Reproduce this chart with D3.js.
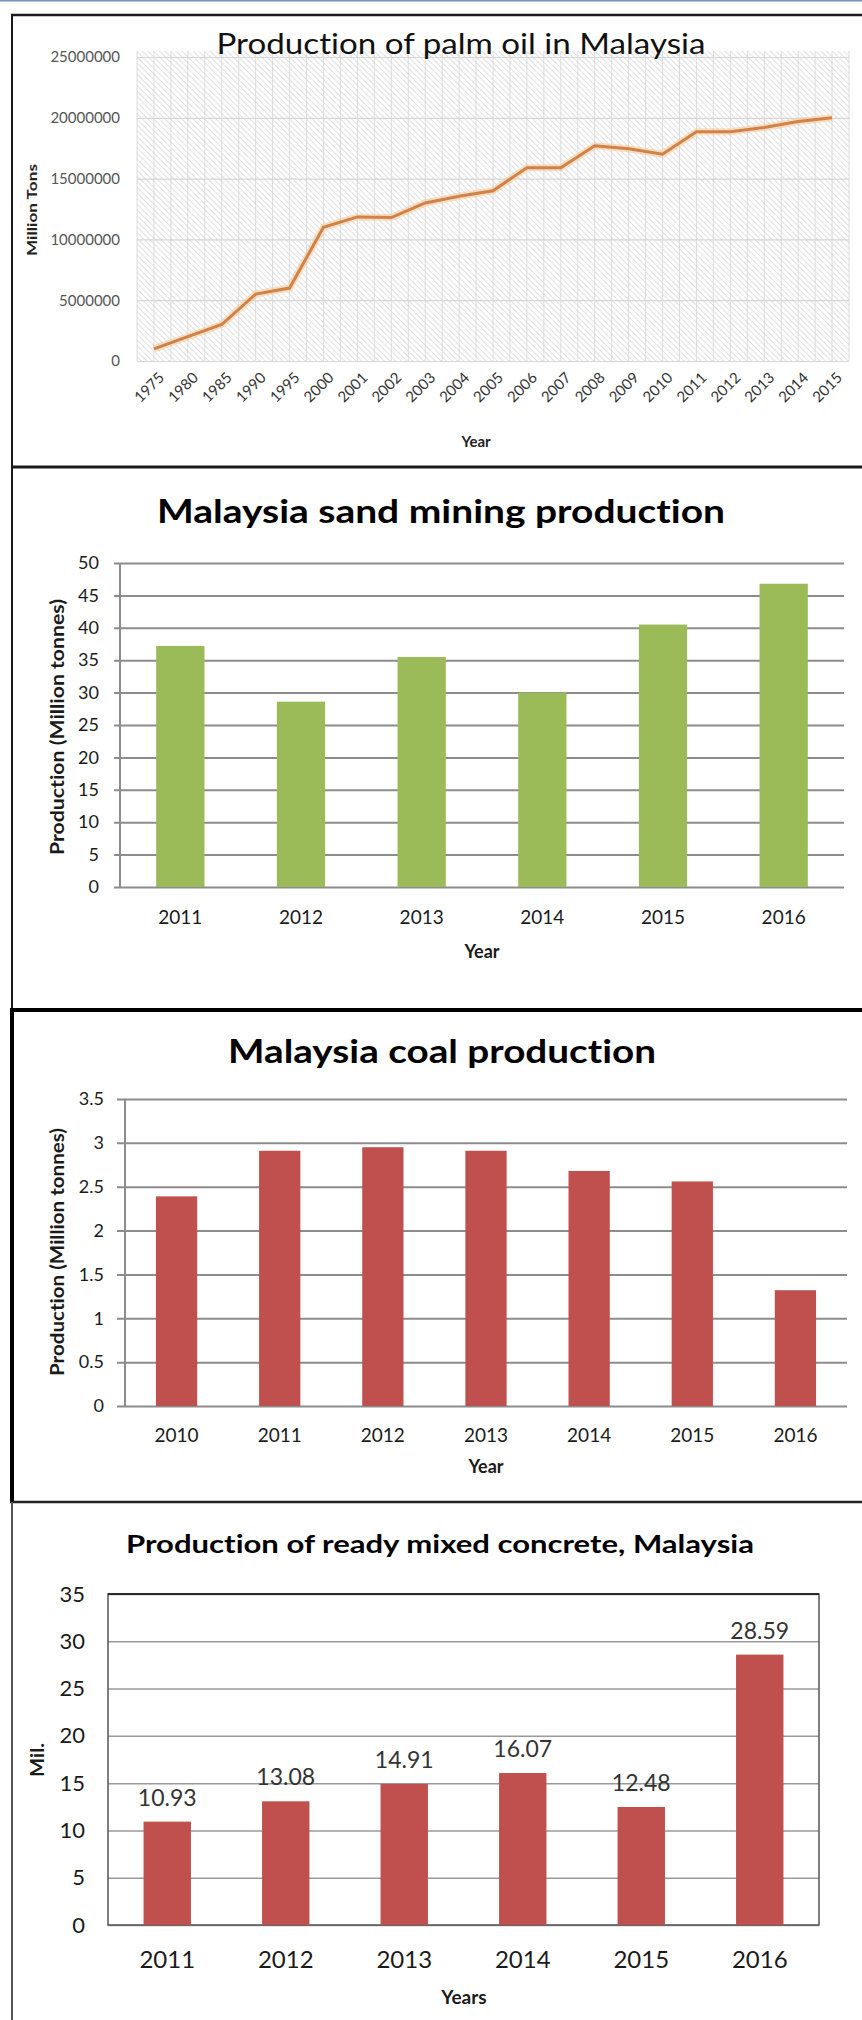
<!DOCTYPE html>
<html>
<head>
<meta charset="utf-8">
<title>Malaysia production charts</title>
<script src="https://d3js.org/d3.v7.min.js"></script>
<style>
  body { margin: 0; background: #fff; }
  svg text { font-family: Lato, "Open Sans", sans-serif; font-variant-ligatures: none; }
</style>
</head>
<body>
<script>
// ---- data ----
var palmYears = ["1975","1980","1985","1990","1995","2000","2001","2002","2003","2004","2005",
                 "2006","2007","2008","2009","2010","2011","2012","2013","2014","2015"];
var palmValues = [1000000, 2000000, 3000000, 5500000, 6000000, 11000000, 11850000, 11800000,
                  13000000, 13550000, 14000000, 15900000, 15900000, 17700000, 17450000, 17000000,
                  18850000, 18850000, 19200000, 19700000, 20000000];
var palmTicks = [0, 5000000, 10000000, 15000000, 20000000, 25000000];

var sandYears = ["2011","2012","2013","2014","2015","2016"];
var sandValues = [37.2, 28.6, 35.5, 30.0, 40.5, 46.8];
var sandTicks = [0,5,10,15,20,25,30,35,40,45,50];

var coalYears = ["2010","2011","2012","2013","2014","2015","2016"];
var coalValues = [2.39, 2.91, 2.95, 2.91, 2.68, 2.56, 1.32];
var coalTicks = [0,0.5,1,1.5,2,2.5,3,3.5];

var concreteYears = ["2011","2012","2013","2014","2015","2016"];
var concreteValues = [10.93, 13.08, 14.91, 16.07, 12.48, 28.59];
var concreteTicks = [0,5,10,15,20,25,30,35];

var width = 862, height = 2020;

var svg = d3.select("body")
  .append("svg")
  .attr("width", width)
  .attr("height", height);

// ---- panel frames ----
function hline(y, x1, x2, w, c) {
  svg.append("line").attr("x1", x1).attr("x2", x2).attr("y1", y).attr("y2", y)
    .attr("stroke", c).attr("stroke-width", w);
}
function vline(x, y1, y2, w, c) {
  svg.append("line").attr("x1", x).attr("x2", x).attr("y1", y1).attr("y2", y2)
    .attr("stroke", c).attr("stroke-width", w);
}
hline(0.75, 0, width, 1.5, "#6d93c4");
hline(15, 11, width, 2.5, "#1a1a1a");
vline(12, 14, 467, 2, "#1a1a1a");
hline(467, 11, width, 3, "#1a1a1a");
vline(12, 467, 1010, 2, "#1a1a1a");
hline(1010, 10, width, 4, "#000");
vline(12, 1010, 1502, 4, "#000");
hline(1502, 10, width, 2.5, "#222");
vline(12, 1502, height, 2, "#555");

// ---- chart 1: palm oil line chart ----
var defs = svg.append("defs");
defs.append("pattern")
  .attr("id", "hatch")
  .attr("patternUnits", "userSpaceOnUse")
  .attr("width", 4).attr("height", 4)
  .attr("patternTransform", "rotate(-45)")
  .append("line")
  .attr("x1", 0).attr("x2", 0).attr("y1", 0).attr("y2", 4)
  .attr("stroke", "#cfcfcf").attr("stroke-width", 1.3);

var p1 = { left: 137, right: 849, top: 57, bottom: 361 };
var x1 = d3.scalePoint().domain(palmYears).range([p1.left, p1.right]).padding(0.5);
var y1 = d3.scaleLinear().domain([0, 25000000]).range([p1.bottom, p1.top]);

svg.append("rect")
  .attr("x", p1.left).attr("y", p1.top - 6)
  .attr("width", p1.right - p1.left).attr("height", p1.bottom - p1.top + 6)
  .attr("fill", "url(#hatch)");

// vertical grid every half category
var step1 = x1.step();
var vgrid = palmYears.map(function(d){ return x1(d); })
  .concat(palmYears.map(function(d){ return x1(d) - step1 / 2; }))
  .concat([p1.right]);
svg.append("g").selectAll("line")
  .data(vgrid)
  .enter().append("line")
  .attr("x1", function(d){ return d; }).attr("x2", function(d){ return d; })
  .attr("y1", p1.top - 6).attr("y2", p1.bottom)
  .attr("stroke", "#dcdcdc").attr("stroke-width", 1);

var yAxis1 = svg.append("g")
  .attr("transform", "translate(" + p1.left + ",0)")
  .call(d3.axisLeft(y1).tickValues(palmTicks).tickFormat(d3.format("d"))
    .tickSize(-(p1.right - p1.left)).tickPadding(17));
yAxis1.select(".domain").remove();
yAxis1.selectAll(".tick line").attr("stroke", "#d6d6d6").attr("stroke-width", 1.2);
yAxis1.selectAll("text").attr("fill", "#555").style("font-size", "15px");

var xAxis1 = svg.append("g")
  .attr("transform", "translate(0," + p1.bottom + ")")
  .call(d3.axisBottom(x1).tickSize(0));
xAxis1.select(".domain").remove();
xAxis1.selectAll("text")
  .attr("x", 0).attr("y", 0).attr("dy", "0.35em")
  .attr("transform", "translate(7,14) rotate(-45)")
  .style("text-anchor", "end")
  .style("font-size", "15px")
  .attr("fill", "#333");

var line1 = d3.line()
  .x(function(d, i){ return x1(palmYears[i]); })
  .y(function(d){ return y1(d); });
svg.append("path").datum(palmValues)
  .attr("d", line1).attr("fill", "none")
  .attr("stroke", "#f7c999").attr("stroke-width", 7).attr("opacity", 0.6);
svg.append("path").datum(palmValues)
  .attr("d", line1).attr("fill", "none")
  .attr("stroke", "#cf8349").attr("stroke-width", 3);

svg.append("text").text("Production of palm oil in Malaysia")
  .attr("x", 461).attr("y", 54).attr("text-anchor", "middle")
  .attr("textLength", 489).attr("lengthAdjust", "spacingAndGlyphs")
  .style("font-size", "29px").attr("fill", "#111");
svg.append("text").text("Year")
  .attr("x", 476).attr("y", 447).attr("text-anchor", "middle")
  .style("font-size", "15px").style("font-weight", "bold").attr("fill", "#222");
svg.append("text").text("Million Tons")
  .attr("transform", "translate(32,210) rotate(-90)")
  .attr("text-anchor", "middle").attr("dy", "0.35em")
  .attr("textLength", 92).attr("lengthAdjust", "spacingAndGlyphs")
  .style("font-size", "13px").style("font-weight", "bold").attr("fill", "#222");

// ---- bar charts ----
function barChart(o) {
  var g = svg.append("g");
  var x = d3.scaleBand().domain(o.years).range([o.left, o.right])
    .paddingInner(0.6).paddingOuter(0.3);
  var y = d3.scaleLinear().domain([0, o.max]).range([o.bottom, o.top]);

  var ya = g.append("g")
    .attr("transform", "translate(" + o.gridStart + ",0)")
    .call(d3.axisLeft(y).tickValues(o.ticks).tickFormat(d3.format("~g"))
      .tickSize(-(o.right - o.gridStart)).tickPadding(o.gridStart - o.labelRight));
  ya.select(".domain").remove();
  ya.selectAll(".tick line").attr("stroke", o.gridColor).attr("stroke-width", o.gridWidth);
  ya.selectAll("text").attr("fill", "#1a1a1a").style("font-size", o.yFont + "px");

  if (o.box) {
    g.append("rect")
      .attr("x", o.left).attr("y", o.top)
      .attr("width", o.right - o.left).attr("height", o.bottom - o.top)
      .attr("fill", "none").attr("stroke", "#555").attr("stroke-width", 1.5);
    hline(o.top, o.left, o.right, 1.5, "#111");
  } else {
    g.append("line").attr("x1", o.left).attr("x2", o.left)
      .attr("y1", o.top).attr("y2", o.bottom)
      .attr("stroke", o.gridColor).attr("stroke-width", o.gridWidth);
  }

  g.append("g").selectAll("rect")
    .data(o.values)
    .enter().append("rect")
    .attr("x", function(d, i){ return x(o.years[i]); })
    .attr("y", function(d){ return y(d); })
    .attr("width", x.bandwidth())
    .attr("height", function(d){ return o.bottom - y(d); })
    .attr("fill", o.color);

  if (o.labels) {
    g.append("g").selectAll("text")
      .data(o.values)
      .enter().append("text")
      .attr("x", function(d, i){ return x(o.years[i]) + x.bandwidth() / 2; })
      .attr("y", function(d){ return y(d) - 16; })
      .attr("text-anchor", "middle")
      .style("font-size", o.labelFont + "px").attr("fill", "#333")
      .text(function(d){ return d.toFixed(2); });
  }

  var xa = g.append("g")
    .attr("transform", "translate(0," + o.bottom + ")")
    .call(d3.axisBottom(x).tickSize(0));
  xa.select(".domain").remove();
  xa.selectAll("text").attr("y", o.xLabelY - o.bottom).attr("dy", 0)
    .attr("fill", "#1a1a1a").style("font-size", o.xFont + "px");

  g.append("text").text(o.title)
    .attr("x", o.titleX).attr("y", o.titleY).attr("text-anchor", "middle")
    .attr("textLength", o.titleW).attr("lengthAdjust", "spacingAndGlyphs")
    .style("font-size", o.titleFont + "px").style("font-weight", "bold").attr("fill", "#000");
  g.append("text").text(o.xTitle)
    .attr("x", o.xTitleX).attr("y", o.xTitleY).attr("text-anchor", "middle")
    .style("font-size", o.axisFont + "px").style("font-weight", "bold").attr("fill", "#1a1a1a");
  g.append("text").text(o.yTitle)
    .attr("transform", "translate(" + o.yTitleX + "," + o.yTitleY + ") rotate(-90)")
    .attr("text-anchor", "middle").attr("dy", "0.35em")
    .attr("textLength", o.yTitleW).attr("lengthAdjust", "spacingAndGlyphs")
    .style("font-size", o.axisFont + "px").style("font-weight", "bold").attr("fill", "#1a1a1a");
}

barChart({
  years: sandYears, values: sandValues, ticks: sandTicks, max: 50,
  left: 120, right: 844, top: 563, bottom: 887, gridStart: 114, labelRight: 99,
  gridColor: "#8c8c8c", gridWidth: 2, color: "#9bbb59",
  yFont: 18, xFont: 19, xLabelY: 924,
  title: "Malaysia sand mining production", titleX: 441, titleY: 523, titleW: 568, titleFont: 32,
  xTitle: "Year", xTitleX: 482, xTitleY: 958, axisFont: 18,
  yTitle: "Production (Million tonnes)", yTitleX: 58, yTitleY: 727, yTitleW: 256
});

barChart({
  years: coalYears, values: coalValues, ticks: coalTicks, max: 3.5,
  left: 125, right: 847, top: 1099, bottom: 1406, gridStart: 117, labelRight: 104,
  gridColor: "#8c8c8c", gridWidth: 2, color: "#c0504d",
  yFont: 18, xFont: 19, xLabelY: 1442,
  title: "Malaysia coal production", titleX: 442, titleY: 1063, titleW: 428, titleFont: 32,
  xTitle: "Year", xTitleX: 486, xTitleY: 1473, axisFont: 18,
  yTitle: "Production (Million tonnes)", yTitleX: 58, yTitleY: 1252, yTitleW: 248
});

barChart({
  years: concreteYears, values: concreteValues, ticks: concreteTicks, max: 35,
  left: 108, right: 819, top: 1594, bottom: 1925, gridStart: 108, labelRight: 85,
  gridColor: "#9a9a9a", gridWidth: 1.5, color: "#c0504d", box: true, labels: true,
  yFont: 22, xFont: 24, labelFont: 23, xLabelY: 1968,
  title: "Production of ready mixed concrete, Malaysia", titleX: 440, titleY: 1553, titleW: 628, titleFont: 25,
  xTitle: "Years", xTitleX: 464, xTitleY: 2004, axisFont: 19,
  yTitle: "Mil.", yTitleX: 37, yTitleY: 1760, yTitleW: 34
});
</script>
</body>
</html>
